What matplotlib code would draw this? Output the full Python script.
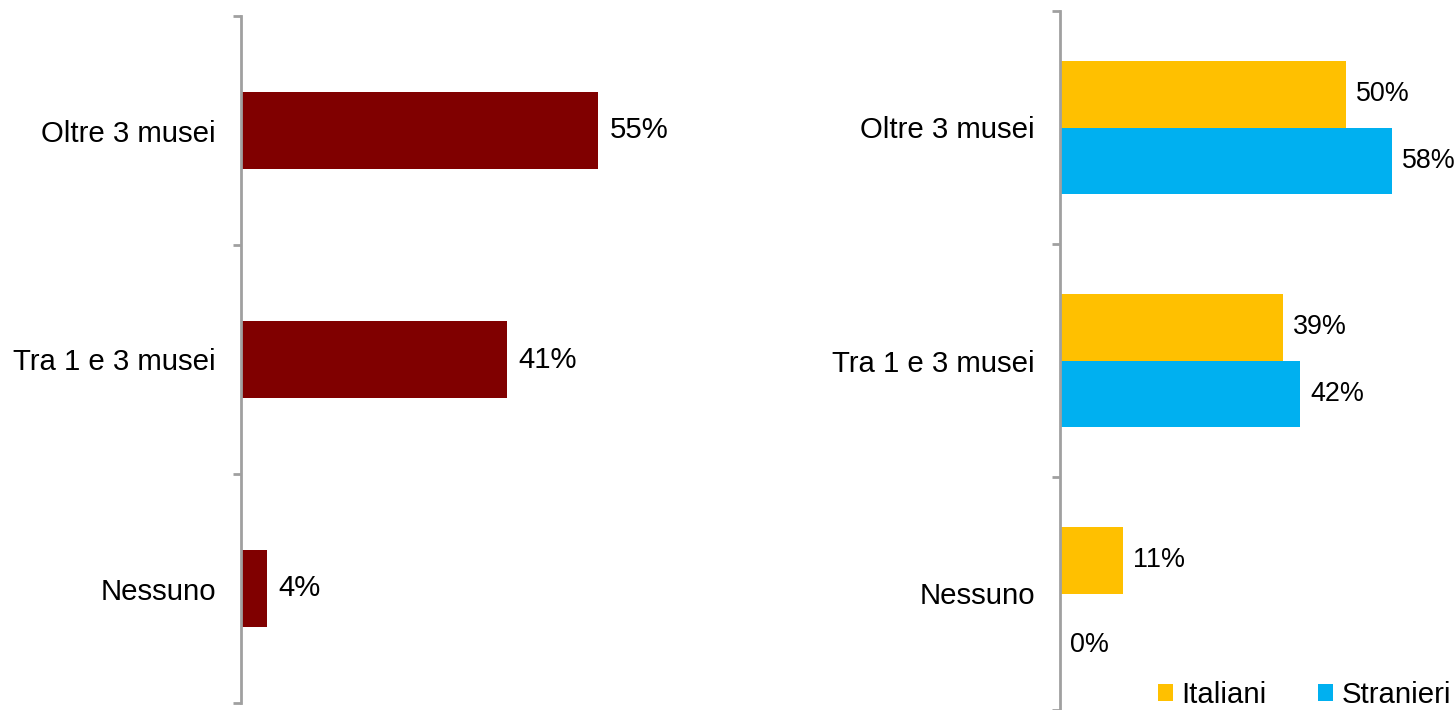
import matplotlib.pyplot as plt
import numpy as np

plt.rcParams['font.family'] = ['Liberation Sans', 'DejaVu Sans']

# ===== Daten =====
categorie = ['Oltre 3 musei', 'Tra 1 e 3 musei', 'Nessuno']
totale = [55, 41, 4]
italiani = [50, 39, 11]
stranieri = [58, 42, 0]

grigio = '#A0A0A0'
fs = 21.2
fs_val2 = 19.4

fig = plt.figure(figsize=(14.56, 7.10), dpi=100)
W, H = 1456, 710


def stile_asse(ax):
    for s in ['top', 'right', 'bottom']:
        ax.spines[s].set_visible(False)
    ax.spines['left'].set_color(grigio)
    ax.spines['left'].set_linewidth(2)
    ax.set_xticks([])
    pos = np.arange(len(categorie))
    ax.set_yticks(pos)
    ax.set_yticklabels(categorie, fontsize=fs)
    ax.tick_params(axis='y', which='major', length=0, pad=18)
    ax.set_yticks([-0.5, 0.5, 1.5, 2.5], minor=True)
    ax.tick_params(axis='y', which='minor', length=6, width=2, color=grigio)
    ax.set_ylim(2.5, -0.5)


# ===== Pannello sinistro =====
ax1 = fig.add_axes([241 / W, 7 / H, 460 / W, 687 / H])
y = np.arange(len(categorie))
bars = ax1.barh(y, totale, height=0.34, color='#800000')
for b, v in zip(bars, totale):
    ax1.text(b.get_width() + 1.8, b.get_y() + b.get_height() / 2, f'{v}%',
             va='center', ha='left', fontsize=fs)
ax1.set_xlim(0, 460 / 6.49)
stile_asse(ax1)

# ===== Pannello destro =====
ax2 = fig.add_axes([1060 / W, 0, 396 / W, 699 / H])
h = 0.285
b_it = ax2.barh(y - h / 2, italiani, height=h, color='#FFC000', label='Italiani')
b_st = ax2.barh(y + h / 2, stranieri, height=h, color='#00B0F0', label='Stranieri')
for bb, vals in [(b_it, italiani), (b_st, stranieri)]:
    for b, v in zip(bb, vals):
        dy = 0.08 if v == 0 else 0
        ax2.text(b.get_width() + 1.7, b.get_y() + b.get_height() / 2 + dy, f'{v}%',
                 va='center', ha='left', fontsize=fs_val2)
ax2.set_xlim(0, 396 / 5.72)
stile_asse(ax2)

fig.legend(handles=[b_it, b_st], labels=['Italiani', 'Stranieri'],
           loc='lower right', bbox_to_anchor=(1463 / W, -11 / H), ncol=2,
           frameon=False, fontsize=fs, handlelength=0.5, handleheight=0.5,
           handletextpad=0.3, columnspacing=1.75, borderaxespad=0)

fig.savefig('out.png', dpi=100)
